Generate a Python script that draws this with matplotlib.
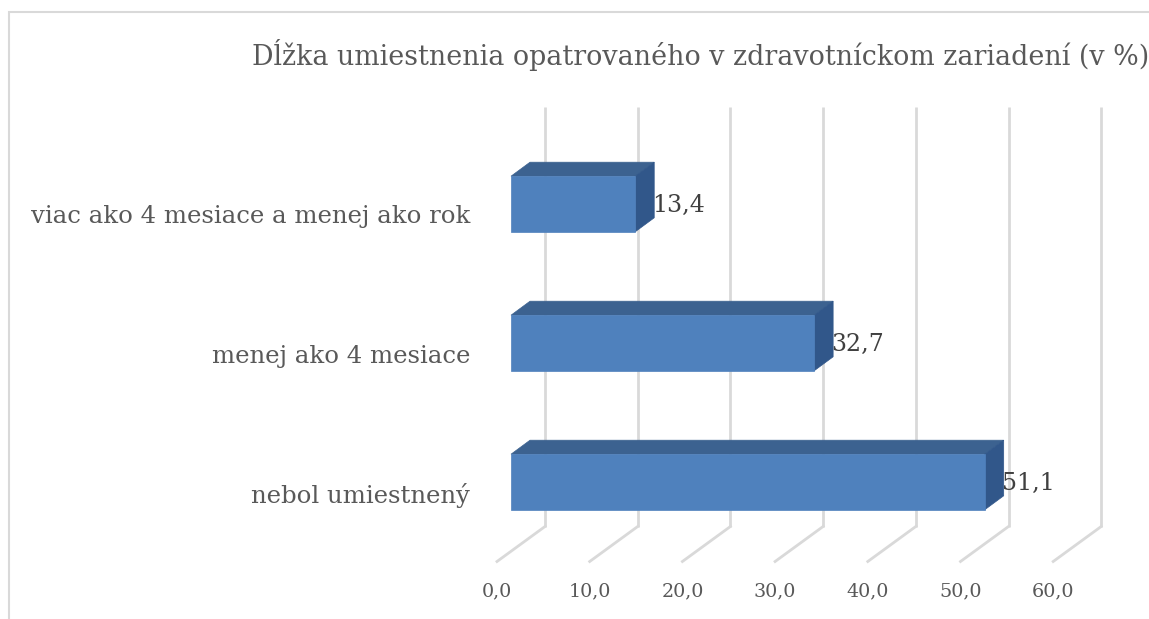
import matplotlib
matplotlib.use("Agg")
import matplotlib.pyplot as plt
from matplotlib.patches import Polygon, Rectangle
from matplotlib.transforms import offset_copy
import numpy as np

categories = ["nebol umiestnený", "menej ako 4 mesiace", "viac ako 4 mesiace a menej ako rok"]
values = [51.1, 32.7, 13.4]
value_labels = ["51,1", "32,7", "13,4"]
ticks = [0, 10, 20, 30, 40, 50, 60]
tick_labels = ["0,0", "10,0", "20,0", "30,0", "40,0", "50,0", "60,0"]
title = "Dĺžka umiestnenia opatrovaného v zdravotníckom zariadení (v %)"

W, H = 1149, 619
DPI = 100
fig = plt.figure(figsize=(W / DPI, H / DPI), dpi=DPI)
ax = fig.add_axes([0, 0, 1, 1])
ax.set_axis_off()

# scale: px per value unit, category spacing in px
PXV = 9.27
X0 = 511      # value 0 at bar front plane (px)
Y0 = 482      # center of first bar (px from top)
DY = 139
ax.set_xlim(-X0 / PXV, (W - X0) / PXV)
ax.set_ylim((Y0 - H) / DY, Y0 / DY)

FONT = "DejaVu Serif"
grid_c = "#D9D9D9"
txt_c = "#595959"
lab_c = "#404040"
front_c = "#4F81BD"
top_c = "#3C6290"
side_c = "#31578A"

def off(dx, dy):
    return offset_copy(ax.transData, fig=fig, x=dx, y=dy, units="dots")

back = off(34, 25)
floor_front = off(-14, -10)

# back wall gridlines
for t in ticks:
    ax.plot([t, t], [-0.5, 2.52], color=grid_c, lw=2, transform=back,
            solid_capstyle="butt", zorder=0)
# floor lines
for t in ticks:
    p1 = back.transform((t, -0.5))
    p2 = floor_front.transform((t, -0.5))
    ax.plot([p1[0], p2[0]], [p1[1], p2[1]], color=grid_c, lw=2, transform=None, zorder=0)

# tick labels
tlab = off(-14, -40)
for t, s in zip(ticks, tick_labels):
    ax.text(t, -0.5, s, transform=tlab, ha="center", va="center",
            fontsize=13.8, color=txt_c, family=FONT)

# bars
BH = 0.2  # half height in category units
BDX, BDY = 19, 14
for i, (v, lab) in enumerate(zip(values, value_labels)):
    y0, y1 = i - BH, i + BH
    f = ax.transData
    fr = f.transform((v, y0))
    tl = f.transform((0, y1)); tr = f.transform((v, y1))
    d = np.array([BDX, BDY])
    ax.add_patch(Polygon([tl, tr, tr + d, tl + d], closed=True, facecolor=top_c,
                         edgecolor=top_c, lw=0.5, transform=None, zorder=3))
    ax.add_patch(Polygon([fr, tr, tr + d, fr + d], closed=True, facecolor=side_c,
                         edgecolor=side_c, lw=0.5, transform=None, zorder=3))
    ax.add_patch(Rectangle((0, y0), v, 2 * BH, facecolor=front_c,
                           edgecolor=front_c, lw=0.5, zorder=4))
    ax.text(v, i, lab, transform=off(BDX - 2, -1), ha="left", va="center",
            fontsize=17, color=lab_c, family=FONT, zorder=5)

# category labels
for i, c in enumerate(categories):
    ax.text(0, i, c, transform=off(-41, -13), ha="right", va="center",
            fontsize=17.6, color=txt_c, family=FONT)

# title
fig.text(252 / W, 1 - 55 / H, title, ha="left", va="center", fontsize=19.4,
         color=txt_c, family=FONT)

# chart border (extends beyond image right/bottom)
fig.add_artist(Rectangle((9 / W, -0.1), 1.2, 1 - 12 / H + 0.1, transform=fig.transFigure,
                         fill=False, edgecolor="#D9D9D9", lw=1.5))

fig.savefig("out.png", dpi=DPI)
